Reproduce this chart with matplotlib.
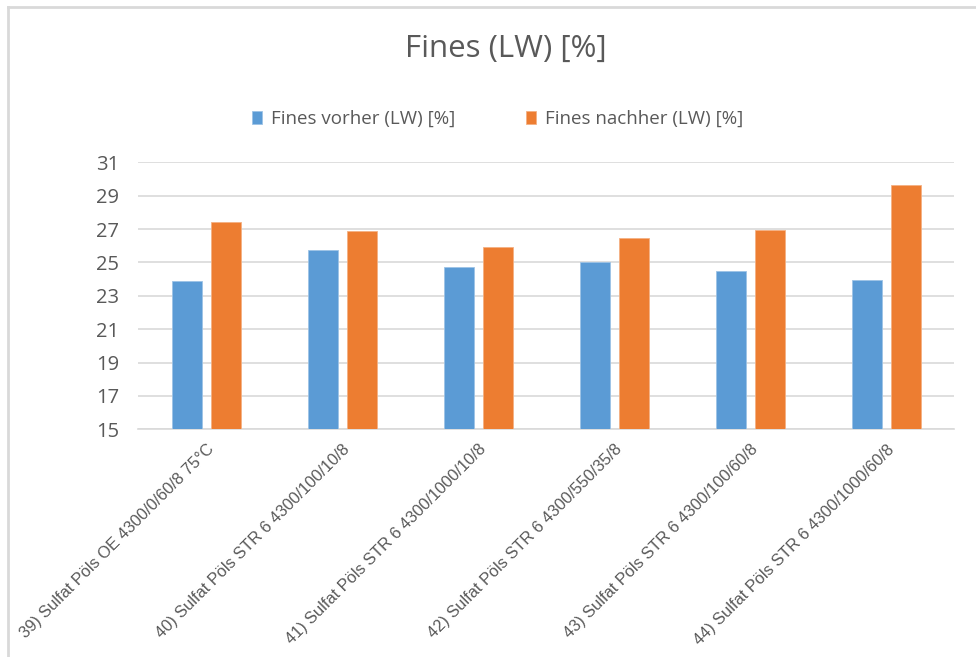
import matplotlib
matplotlib.use("Agg")
import matplotlib.pyplot as plt
from matplotlib.lines import Line2D
import numpy as np

categories = [
    "39) Sulfat Pöls OE 4300/0/60/8 75°C",
    "40) Sulfat Pöls STR 6 4300/100/10/8",
    "41) Sulfat Pöls STR 6 4300/1000/10/8",
    "42) Sulfat Pöls STR 6 4300/550/35/8",
    "43) Sulfat Pöls STR 6 4300/100/60/8",
    "44) Sulfat Pöls STR 6 4300/1000/60/8",
]
vorher = [23.9, 25.75, 24.7, 25.05, 24.5, 23.95]
nachher = [27.4, 26.9, 25.9, 26.45, 26.95, 29.65]
yticks = [15, 17, 19, 21, 23, 25, 27, 29, 31]

blue = "#5B9BD5"
orange = "#ED7D31"
grid = "#D9D9D9"
txt = "#595959"

fig = plt.figure(figsize=(9.76, 6.57), dpi=100)
ax = fig.add_axes([0.1417, 0.3466, 0.8361, 0.4064])

x = np.arange(len(categories))
w = 0.22
ax.bar(x - 0.142, np.array(vorher) - 15, w, bottom=15, color=blue,
       edgecolor="#9DC3E6", linewidth=0.6, zorder=3, label="Fines vorher (LW) [%]")
ax.bar(x + 0.142, np.array(nachher) - 15, w, bottom=15, color=orange,
       edgecolor="#F4B183", linewidth=0.6, zorder=3, label="Fines nachher (LW) [%]")

ax.set_xlim(-0.5, len(categories) - 0.5)
ax.set_ylim(15, 31)
ax.set_yticks(yticks)
ax.set_yticklabels([str(t) for t in yticks], fontsize=14.5, color=txt, family="Open Sans")
ax.yaxis.grid(True, color=grid, linewidth=1.2, zorder=0)
ax.tick_params(axis="y", length=0, pad=14)
ax.tick_params(axis="x", length=0, pad=9)
for s in ["top", "right", "left"]:
    ax.spines[s].set_visible(False)
ax.spines["bottom"].set_color(grid)
ax.spines["bottom"].set_linewidth(1.2)

ax.set_xticks(x)
ax.set_xticklabels(categories, rotation=45, ha="right", rotation_mode="anchor",
                   fontsize=11.8, color=txt, family="Liberation Sans")

fig.text(0.518, 0.925, "Fines (LW) [%]", ha="center", va="center",
         fontsize=22.5, color=txt, family="Open Sans")

ax.legend(loc="center", bbox_to_anchor=(0.510, 0.819), bbox_transform=fig.transFigure,
          ncol=2, frameon=False, handlelength=0.5, handleheight=0.7,
          handletextpad=0.5, columnspacing=3.8, labelcolor=txt,
          prop={"family": "Open Sans", "size": 13.5})

# light frame around the chart area
fig.add_artist(Line2D([8 / 976, 1.0], [1 - 7 / 657, 1 - 7 / 657],
                      transform=fig.transFigure, color="#D9D9D9", linewidth=2))
fig.add_artist(Line2D([8 / 976, 8 / 976], [0.0, 1 - 7 / 657],
                      transform=fig.transFigure, color="#D9D9D9", linewidth=2))

fig.savefig("out.png", dpi=100)
